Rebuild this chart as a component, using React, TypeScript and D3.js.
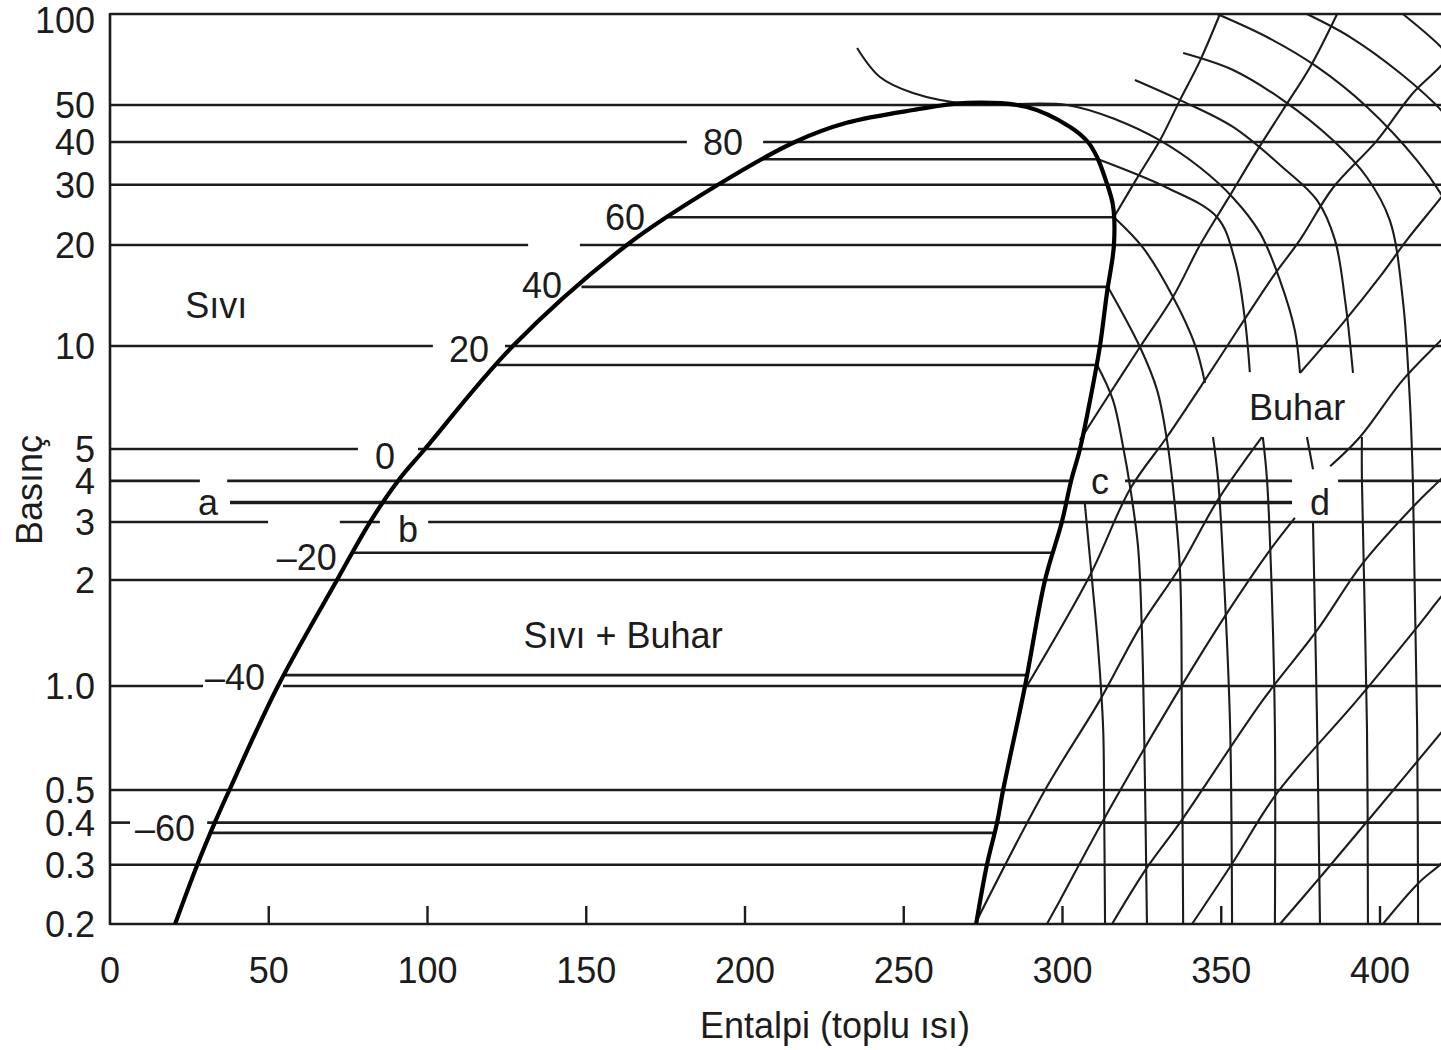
import React from 'react';
import * as d3 from 'd3';

type Pt = [number, number]; // [enthalpy, pressure]

// AXES
const enthalpyTicks = [0, 50, 100, 150, 200, 250, 300, 350, 400];
const pressureTicks = [100, 50, 40, 30, 20, 10, 5, 4, 3, 2, 1, 0.5, 0.4, 0.3, 0.2];
const pressureLabels = ['100', '50', '40', '30', '20', '10', '5', '4', '3', '2', '1.0', '0.5', '0.4', '0.3', '0.2'];

// breaks left open in the isobars (enthalpy from / to)
const isobarGaps: [number, Pt[]][] = [
  [40, [[181.7, 205.7]]],
  [20, [[131.7, 148.0]]],
  [10, [[101.7, 124.4]]],
  [5, [[78.1, 97.0]]],
  [4, [[28.3, 36.9], [303.0, 319.7], [372.3, 386.8]]],
  [3, [[49.8, 72.4], [85.0, 100.2]]],
  [1, [[29.3, 54.5]]],
  [0.4, [[6.3, 30.6]]],
];

// SATURATION DOME
const satLiquid: Pt[] = [
  [20.5, 0.2], [27.5, 0.3], [33.0, 0.4], [37.6, 0.5], [52.9, 1], [71.5, 2], [81.9, 3],
  [90.7, 4], [99.2, 5], [126.9, 10], [162.8, 20], [191.5, 30], [215.7, 40], [232, 44.9],
  [253, 48.5], [270, 50.8],
];
const satVapor: Pt[] = [
  [270, 50.8], [288.8, 49.4], [302.4, 43.8], [308, 40], [310.9, 36.1], [313.7, 30.8],
  [315.9, 26.1], [316.2, 20], [314, 14.4], [311.8, 10], [308.7, 6.95], [305.5, 5], [302.7, 4],
  [299.8, 3], [294.5, 2], [288.2, 1], [281.3, 0.5], [279.4, 0.4], [276.2, 0.3], [272.8, 0.2],
];

// saturation temperature lines inside the dome
const satPressure = [35.6, 24.1, 15.0, 8.8, 2.42, 1.074, 0.373];
const satLiquidH = [206, 175.5, 148.5, 122, 76.4, 55, 31.8];
const satVaporH = [311.2, 316, 314.3, 310.8, 297.4, 288.8, 278.6];

// temperature labels (text, enthalpy, baseline pressure)
const tempLabels = ['80', '60', '40', '20', '0', '–20', '–40', '–60'];
const tempLabelH = [193.1, 162.2, 136.1, 113.1, 86.6, 62.0, 39.4, 17.3];
const tempLabelP = [36.6, 22.1, 13.9, 8.98, 4.34, 2.14, 0.974, 0.353];

// cycle line a - d
const cyclePressure = 3.44;
const cycleH: Pt = [37.8, 372.3];

const pointLabels = ['a', 'b', 'c', 'd'];
const pointLabelAt: Pt[] = [[30.9, 3.15], [93.9, 2.61], [311.8, 3.64], [381.1, 3.15]];

const regionLabels = ['Sıvı', 'Sıvı + Buhar', 'Buhar'];
const regionLabelAt: Pt[] = [[33.5, 12.1], [161.6, 1.28], [373.9, 6.08]];

// SUPERHEATED VAPOUR: isotherms (each a list of drawn pieces)
const isotherms: Pt[][][] = [
  [[[307, 3.44], [309.3, 2.0], [311.2, 1.29], [312.8, 0.755], [313.1, 0.466], [313.4, 0.2]]],
  [[[310.9, 8.8], [315.9, 6.95], [319.1, 5.07], [321.3, 3.83], [323.8, 2.52], [325, 1.44], [325.7, 0.755], [326.6, 0.2]]],
  [[[314.3, 15], [324.4, 9.93], [329.8, 7.43], [332.9, 5.31], [334.8, 3.83], [337, 2.14], [337.6, 0.755], [338, 0.2]]],
  [
    [[316.2, 24.1], [325.4, 19.6], [334.8, 14], [341.7, 10.1], [344.9, 7.8]],
    [[347.4, 5.42], [349, 4.05], [351.2, 1.75], [352.8, 0.755], [353.4, 0.2]],
  ],
  [
    [[311.2, 35.6], [332.9, 29.4], [348.7, 24.1], [354.3, 18], [357.5, 11.9], [359, 8.39]],
    [[363.1, 5.42], [364.4, 4.05], [366, 1.75], [366.9, 0.755], [366.9, 0.2]],
  ],
  [
    [[235.3, 77.2], [242.5, 61.9], [252.9, 54.8], [270.2, 50.4], [301.4, 50], [317.2, 45.7], [330.7, 40.4],
      [343.3, 33.7], [353.7, 27.5], [362.2, 21.7], [368.5, 15.7], [373.2, 11.1], [374.8, 8.34]],
    [[377, 5.42], [378.9, 4.34]],
    [[378.9, 2.98], [380.2, 0.755], [381.1, 0.2]],
  ],
  [
    [[322.8, 60.5], [337, 51.9], [353.7, 43.8], [369.4, 33.7], [380.2, 27], [385.8, 20.7], [389, 13.7], [391.5, 8.34]],
    [[394.3, 5.42], [394.3, 4.05], [395.9, 0.755], [396.2, 0.2]],
  ],
  [[[338, 74.3], [353.7, 65.3], [369.4, 51.9], [385.2, 40.4], [395.9, 31.5], [403.1, 23.6], [407.2, 13.7],
    [409.4, 6.95], [410.4, 3.83], [411, 1.75], [411.7, 0.755], [412, 0.2]]],
  [[[348.7, 100], [364.4, 83.9], [380.2, 66.8], [395.9, 49.4], [411.7, 35.3], [419.2, 28.2], [425.2, 22.1]]],
  [[[377, 100], [390.6, 83.9], [406.3, 63.8], [419.2, 48.5], [425.2, 41.7]]],
  [[[407.2, 100], [419.2, 77.8], [425.2, 65.3]]],
];

// isentropes
const isentropes: Pt[][][] = [
  [[[316.5, 24.4], [324.4, 32.4], [330.7, 40.4], [337, 51.9], [343.3, 70], [349.6, 100]]],
  [[[305.5, 5.31], [315, 7.29], [324.4, 9.93], [334.8, 14], [343.3, 20], [351.8, 27], [361.3, 37.8],
    [369.4, 48.5], [378, 66.8], [386.5, 100]]],
  [[[288.8, 1.0], [308.7, 2.07], [321.3, 3.78], [332.9, 5.42], [344.3, 7.8], [355, 11.1], [366.3, 16.1],
    [374.8, 20.7], [385.2, 29.4], [399.1, 40.4], [410.4, 54.8], [419.2, 67.4], [425.2, 82]]],
  [
    [[273.1, 0.2055], [294.5, 0.5], [311.8, 0.91], [324.4, 1.47], [337, 2.19], [349, 3.51], [362.8, 5.42]],
    [[374.8, 8.34], [388.3, 11.7], [400, 16.1], [408.5, 20.7], [419.2, 27.5], [425.2, 32.6]],
  ],
  [
    [[295.1, 0.2], [299.2, 0.235], [312.8, 0.406], [334.8, 0.91], [351.8, 1.61], [365.4, 2.47], [373.2, 3.09]],
    [[384.3, 4.43], [393.7, 5.42], [407.2, 7.96], [419.2, 10.4], [425.2, 11.9]],
  ],
  [[[315.6, 0.2], [326.6, 0.294], [337, 0.4], [363.1, 0.91], [380.2, 1.44], [394.6, 2.25], [411.7, 3.44],
    [419.2, 4.05], [425.2, 4.65]]],
  [[[340.8, 0.2], [353.4, 0.302], [367.6, 0.49], [392.8, 0.91], [411.7, 1.47], [419.2, 1.79], [425.2, 2.07]]],
  [[[368.5, 0.2], [381.1, 0.275], [396.2, 0.406], [419.2, 0.731], [425.2, 0.853]]],
  [[[400.9, 0.2], [412, 0.264], [419.2, 0.302], [425.2, 0.347]]],
];

const FONT = '"Liberation Sans", Arial, Helvetica, sans-serif';
const INK = '#1c1c1c';

export default function App() {
  const width = 1441;
  const height = 1050;

  const x = d3.scaleLinear().domain([0, 400]).range([110, 1380]);
  // hand-drawn log axis: piecewise log scale calibrated on the printed ticks
  const y = d3.scaleLog()
    .domain([0.2, 0.5, 1, 2, 5, 10, 20, 40, 50, 100])
    .range([924, 790, 686, 580, 449, 346, 245, 142, 105, 14]);

  const curve = d3.line<Pt>()
    .x((d) => x(d[0]))
    .y((d) => y(d[1]))
    .curve(d3.curveCatmullRom.alpha(0.5));

  const hEnd = 425;

  // isobars split around their gaps
  const isobars = pressureTicks.map((p) => {
    const entry = isobarGaps.find((g) => g[0] === p);
    const gaps = entry ? entry[1] : [];
    const pieces: Pt[] = [];
    let from = 0;
    gaps.forEach(([g0, g1]) => {
      pieces.push([from, g0]);
      from = g1;
    });
    pieces.push([from, hEnd]);
    return { p, pieces };
  });

  const dome = satLiquid.concat(satVapor.slice(1));

  return (
    <svg
      width={width}
      height={height}
      style={{ position: 'absolute', left: 0, top: 0, background: '#fff' }}
      fontFamily={FONT}
    >
      <defs>
        <clipPath id="plot">
          <rect x={110} y={12} width={width - 110} height={914} />
        </clipPath>
      </defs>

      {/* isobars */}
      <g stroke={INK} strokeWidth={2.6}>
        {isobars.map(({ p, pieces }) =>
          pieces.map(([h0, h1], i) => (
            <line key={p + '-' + i} x1={x(h0)} x2={Math.min(x(h1), width)} y1={y(p)} y2={y(p)} />
          ))
        )}
      </g>

      {/* left axis */}
      <line x1={110} x2={110} y1={y(100) - 1} y2={y(0.2) + 1} stroke={INK} strokeWidth={2.6} />

      {/* x ticks */}
      <g stroke={INK} strokeWidth={2.4}>
        {enthalpyTicks.slice(1).map((v) => (
          <line key={v} x1={x(v)} x2={x(v)} y1={y(0.2)} y2={y(0.2) - 18} />
        ))}
      </g>

      {/* saturation temperature lines */}
      <g stroke={INK} strokeWidth={2.6}>
        {satPressure.map((p, i) => (
          <line key={i} x1={x(satLiquidH[i])} x2={x(satVaporH[i])} y1={y(p)} y2={y(p)} />
        ))}
      </g>

      {/* superheated grid */}
      <g clipPath="url(#plot)" fill="none" stroke={INK} strokeWidth={2.1}>
        {isotherms.map((pieces, i) =>
          pieces.map((seg, j) => <path key={'t' + i + '-' + j} d={curve(seg) || ''} />)
        )}
        {isentropes.map((pieces, i) =>
          pieces.map((seg, j) => <path key={'s' + i + '-' + j} d={curve(seg) || ''} />)
        )}
      </g>

      {/* cycle line a-d */}
      <line
        x1={x(cycleH[0])}
        x2={x(cycleH[1])}
        y1={y(cyclePressure)}
        y2={y(cyclePressure)}
        stroke={INK}
        strokeWidth={3.6}
      />

      {/* dome */}
      <path d={curve(dome) || ''} fill="none" stroke="#000" strokeWidth={4.2} strokeLinejoin="round" />

      {/* texts */}
      <g fill={INK} fontSize={36}>
        {pressureTicks.map((p, i) => (
          <text key={p} x={95} y={Math.max(y(p), 20)} dy="0.36em" textAnchor="end">
            {pressureLabels[i]}
          </text>
        ))}
        {enthalpyTicks.map((v) => (
          <text key={v} x={x(v)} y={983} textAnchor="middle">
            {v}
          </text>
        ))}
        {tempLabels.map((t, i) => (
          <text key={t} x={x(tempLabelH[i])} y={y(tempLabelP[i])} textAnchor="middle">
            {t}
          </text>
        ))}
        {pointLabels.map((t, i) => (
          <text key={t} x={x(pointLabelAt[i][0])} y={y(pointLabelAt[i][1])} textAnchor="middle">
            {t}
          </text>
        ))}
        {regionLabels.map((t, i) => (
          <text key={t} x={x(regionLabelAt[i][0])} y={y(regionLabelAt[i][1])} textAnchor="middle">
            {t}
          </text>
        ))}
        <text x={835} y={1038} textAnchor="middle">
          Entalpi (toplu ısı)
        </text>
        <text transform="translate(42,490) rotate(-90)" textAnchor="middle">
          Basınç
        </text>
      </g>
    </svg>
  );
}
